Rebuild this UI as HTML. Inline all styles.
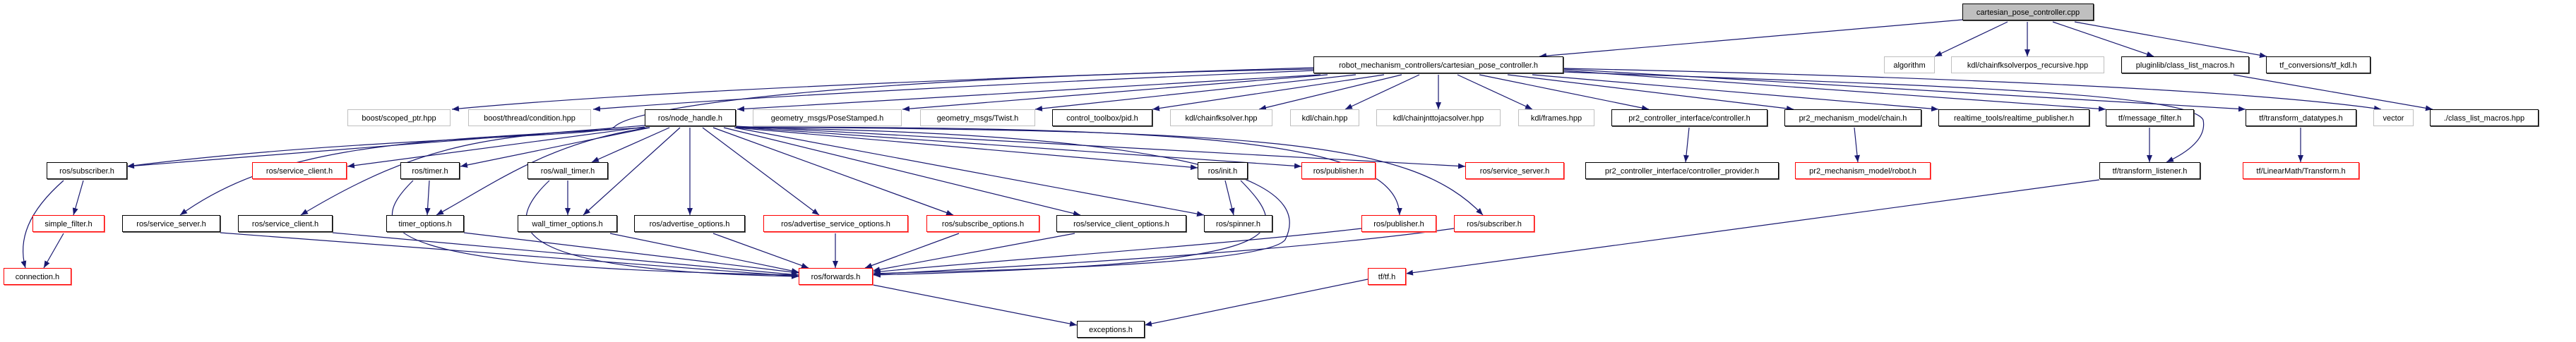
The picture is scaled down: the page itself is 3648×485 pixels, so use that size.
<!DOCTYPE html>
<html><head><meta charset="utf-8"><style>
body{margin:0;width:3648px;height:485px;background:#fff;position:relative;overflow:hidden;font-family:"Liberation Sans",sans-serif;}
.n{position:absolute;height:24px;line-height:24px;text-align:center;font-size:11px;color:#000;white-space:nowrap;box-sizing:border-box;background:#fff;}
.b{border:1px solid #000;box-shadow:1px 1px 0 #555;}
.g{border:1px solid #bfbfbf;}
.r{border:1px solid #ff0000;box-shadow:1px 1px 0 #f66;}
svg{position:absolute;left:0;top:0;}
</style></head><body>
<svg width="3648" height="485" xmlns="http://www.w3.org/2000/svg">
<defs><marker id="a" markerWidth="10" markerHeight="8" refX="10" refY="4" orient="auto" markerUnits="userSpaceOnUse"><path d="M0,0 L10,4 L0,8 z" fill="#191970"/></marker></defs>
<g stroke="#191970" stroke-width="1.2" fill="none" marker-end="url(#a)">
<!-- root -->
<path d="M2779,28 L2180,80"/>
<path d="M2843,31 L2740,80"/>
<path d="M2871,31 L2871,80"/>
<path d="M2907,31 L3050,80"/>
<path d="M2938,31 L3210,80"/>
<path d="M3163,106 L3445,155"/>
<!-- cpc.h -->
<path d="M1860,96 C1400,110 900,130 640,155"/>
<path d="M1860,100 C1500,115 1100,135 840,155"/>
<path d="M1870,106 L1044,155"/>
<path d="M1880,106 L1278,155"/>
<path d="M1920,106 L1466,155"/>
<path d="M1960,106 L1632,155"/>
<path d="M1985,106 L1783,155"/>
<path d="M2010,106 L1905,155"/>
<path d="M2037,106 L2037,155"/>
<path d="M2064,106 L2170,155"/>
<path d="M2095,106 L2335,155"/>
<path d="M2135,106 L2540,155"/>
<path d="M2170,106 L2745,155"/>
<path d="M2214,100 L2982,155"/>
<path d="M2214,98 L3180,155"/>
<path d="M2214,97 C2800,110 3200,130 3372,155"/>
<path d="M1860,98 C1200,110 900,150 870,180 C850,195 500,195 180,236"/>
<path d="M2214,102 C2700,120 3100,130 3120,170 C3125,195 3100,215 3068,230"/>
<!-- node_handle -->
<path d="M913,178 L180,236"/>
<path d="M913,180 L492,236"/>
<path d="M920,181 L652,236"/>
<path d="M948,181 L838,230"/>
<path d="M913,181 C600,200 400,200 255,305"/>
<path d="M920,181 C700,190 600,200 426,305"/>
<path d="M920,181 C780,200 700,260 618,305"/>
<path d="M963,181 L826,305"/>
<path d="M977,181 L977,305"/>
<path d="M995,181 L1160,305"/>
<path d="M1010,181 L1350,305"/>
<path d="M1025,181 L1530,305"/>
<path d="M1040,181 L1705,305"/>
<path d="M1042,181 L1696,238"/>
<path d="M1042,180 L1843,236"/>
<path d="M1042,179 L2075,236"/>
<path d="M1042,180 C1700,180 1980,200 1982,305"/>
<path d="M1042,180 C1800,185 2000,200 2100,305"/>
<path d="M1042,181 C1800,190 1850,280 1820,340 C1790,380 1300,385 1237,388"/>
<!-- misc -->
<path d="M2392,181 L2387,230"/>
<path d="M2626,181 L2631,230"/>
<path d="M3044,181 L3044,230"/>
<path d="M3258,181 L3258,230"/>
<path d="M2973,255 L1991,388"/>
<path d="M118,256 L104,305"/>
<path d="M90,256 C40,300 25,340 36,380"/>
<path d="M90,331 L62,380"/>
<path d="M585,256 C510,330 540,380 1131,390"/>
<path d="M608,256 L605,305"/>
<path d="M778,256 C700,330 740,385 1131,392"/>
<path d="M804,256 L804,305"/>
<path d="M312,330 L1131,392"/>
<path d="M471,330 L1131,390"/>
<path d="M657,330 L1131,387"/>
<path d="M864,331 L1131,386"/>
<path d="M1010,331 L1145,380"/>
<path d="M1183,331 L1183,380"/>
<path d="M1358,331 L1225,380"/>
<path d="M1522,331 L1236,384"/>
<path d="M1735,256 L1747,305"/>
<path d="M1757,256 C1840,340 1820,375 1237,390"/>
<path d="M1928,324 C1700,350 1400,370 1237,386"/>
<path d="M2059,324 C1800,360 1400,380 1237,389"/>
<path d="M1236,404 L1525,461"/>
<path d="M1937,396 L1621,461"/>
</g>
</svg>
<div class="n" style="left:2779px;top:5px;width:186px;background:#bfbfbf;border:1px solid #000;box-shadow:1px 1px 0 #555">cartesian_pose_controller.cpp</div>
<div class="n b" style="left:1860px;top:80px;width:354px">robot_mechanism_controllers/cartesian_pose_controller.h</div>
<div class="n g" style="left:2668px;top:80px;width:72px">algorithm</div>
<div class="n g" style="left:2763px;top:80px;width:217px">kdl/chainfksolverpos_recursive.hpp</div>
<div class="n b" style="left:3004px;top:80px;width:181px">pluginlib/class_list_macros.h</div>
<div class="n b" style="left:3209px;top:80px;width:148px">tf_conversions/tf_kdl.h</div>

<div class="n g" style="left:492px;top:155px;width:146px">boost/scoped_ptr.hpp</div>
<div class="n g" style="left:663px;top:155px;width:174px">boost/thread/condition.hpp</div>
<div class="n b" style="left:913px;top:155px;width:129px">ros/node_handle.h</div>
<div class="n g" style="left:1066px;top:155px;width:211px">geometry_msgs/PoseStamped.h</div>
<div class="n g" style="left:1303px;top:155px;width:163px">geometry_msgs/Twist.h</div>
<div class="n b" style="left:1490px;top:155px;width:142px">control_toolbox/pid.h</div>
<div class="n g" style="left:1657px;top:155px;width:145px">kdl/chainfksolver.hpp</div>
<div class="n g" style="left:1827px;top:155px;width:98px">kdl/chain.hpp</div>
<div class="n g" style="left:1949px;top:155px;width:176px">kdl/chainjnttojacsolver.hpp</div>
<div class="n g" style="left:2150px;top:155px;width:108px">kdl/frames.hpp</div>
<div class="n b" style="left:2282px;top:155px;width:221px">pr2_controller_interface/controller.h</div>
<div class="n b" style="left:2527px;top:155px;width:194px">pr2_mechanism_model/chain.h</div>
<div class="n b" style="left:2745px;top:155px;width:214px">realtime_tools/realtime_publisher.h</div>
<div class="n b" style="left:2982px;top:155px;width:125px">tf/message_filter.h</div>
<div class="n b" style="left:3180px;top:155px;width:157px">tf/transform_datatypes.h</div>
<div class="n g" style="left:3361px;top:155px;width:57px">vector</div>
<div class="n b" style="left:3441px;top:155px;width:154px">./class_list_macros.hpp</div>

<div class="n b" style="left:66px;top:230px;width:114px">ros/subscriber.h</div>
<div class="n r" style="left:357px;top:230px;width:134px">ros/service_client.h</div>
<div class="n b" style="left:567px;top:230px;width:84px">ros/timer.h</div>
<div class="n b" style="left:747px;top:230px;width:114px">ros/wall_timer.h</div>
<div class="n b" style="left:1696px;top:230px;width:71px">ros/init.h</div>
<div class="n r" style="left:1843px;top:230px;width:105px">ros/publisher.h</div>
<div class="n r" style="left:2075px;top:230px;width:140px">ros/service_server.h</div>
<div class="n b" style="left:2245px;top:230px;width:274px">pr2_controller_interface/controller_provider.h</div>
<div class="n r" style="left:2542px;top:230px;width:192px">pr2_mechanism_model/robot.h</div>
<div class="n b" style="left:2973px;top:230px;width:143px">tf/transform_listener.h</div>
<div class="n r" style="left:3176px;top:230px;width:165px">tf/LinearMath/Transform.h</div>

<div class="n r" style="left:46px;top:305px;width:102px">simple_filter.h</div>
<div class="n b" style="left:173px;top:305px;width:139px">ros/service_server.h</div>
<div class="n b" style="left:337px;top:305px;width:134px">ros/service_client.h</div>
<div class="n b" style="left:547px;top:305px;width:110px">timer_options.h</div>
<div class="n b" style="left:733px;top:305px;width:141px">wall_timer_options.h</div>
<div class="n b" style="left:898px;top:305px;width:157px">ros/advertise_options.h</div>
<div class="n r" style="left:1081px;top:305px;width:205px">ros/advertise_service_options.h</div>
<div class="n r" style="left:1312px;top:305px;width:160px">ros/subscribe_options.h</div>
<div class="n b" style="left:1496px;top:305px;width:184px">ros/service_client_options.h</div>
<div class="n b" style="left:1705px;top:305px;width:97px">ros/spinner.h</div>
<div class="n r" style="left:1928px;top:305px;width:106px">ros/publisher.h</div>
<div class="n r" style="left:2059px;top:305px;width:114px">ros/subscriber.h</div>

<div class="n r" style="left:5px;top:380px;width:96px">connection.h</div>
<div class="n r" style="left:1131px;top:380px;width:105px">ros/forwards.h</div>
<div class="n r" style="left:1937px;top:380px;width:54px">tf/tf.h</div>
<div class="n b" style="left:1525px;top:455px;width:96px">exceptions.h</div>
</body></html>
